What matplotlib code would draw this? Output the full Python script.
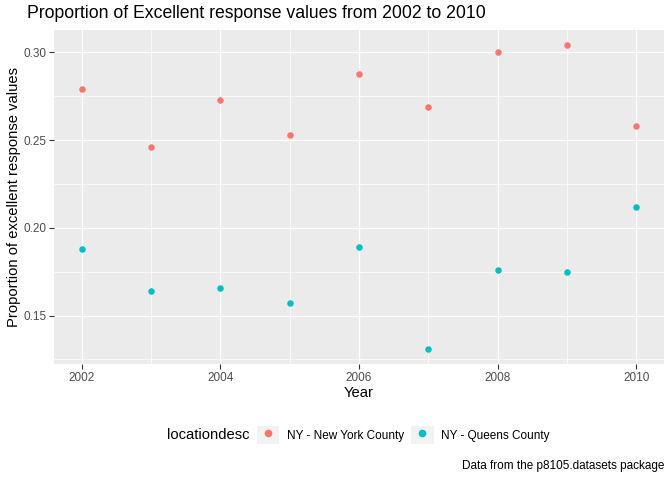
import matplotlib
matplotlib.use("Agg")
import matplotlib.pyplot as plt
from matplotlib.lines import Line2D
from matplotlib.patches import Rectangle
from matplotlib.legend_handler import HandlerTuple

plt.rcParams['font.family'] = ['Liberation Sans', 'DejaVu Sans']

years = [2002, 2003, 2004, 2005, 2006, 2007, 2008, 2009, 2010]
new_york = [0.279, 0.246, 0.273, 0.253, 0.288, 0.269, 0.300, 0.304, 0.258]
queens = [0.188, 0.164, 0.1655, 0.157, 0.189, 0.131, 0.176, 0.175, 0.212]
series_names = ["NY - New York County", "NY - Queens County"]
colors = ["#F8766D", "#00BFC4"]

W, H = 672, 480
fig = plt.figure(figsize=(6.72, 4.8), dpi=100)
ax = fig.add_axes([54 / W, 1 - 364 / H, (664 - 54) / W, (364 - 30) / H])
ax.set_facecolor("#EBEBEB")
for s in ax.spines.values():
    s.set_visible(False)

ax.scatter(years, new_york, s=22, color=colors[0], zorder=3, linewidths=0)
ax.scatter(years, queens, s=22, color=colors[1], zorder=3, linewidths=0)

ax.set_xlim(2001.6, 2010.4)
ax.set_ylim(0.1224, 0.3128)
ax.set_xticks([2002, 2004, 2006, 2008, 2010])
ax.set_xticks([2003, 2005, 2007, 2009], minor=True)
ax.set_yticks([0.15, 0.20, 0.25, 0.30])
ax.set_yticklabels(["0.15", "0.20", "0.25", "0.30"])
ax.set_yticks([0.125, 0.175, 0.225, 0.275], minor=True)
ax.grid(which="major", color="white", linewidth=1.0)
ax.grid(which="minor", color="white", linewidth=0.5)
ax.set_axisbelow(True)
ax.tick_params(which="major", length=3.5, width=0.8, color="#333333",
               labelsize=8.45, labelcolor="#4D4D4D", pad=2)
ax.tick_params(which="minor", length=0)

ax.set_xlabel("Year", fontsize=10.6, labelpad=2)
ax.set_ylabel("Proportion of excellent response values", fontsize=10.6, labelpad=0)
ax.yaxis.set_label_coords(-33 / (664 - 54), 0.5)
fig.text(27 / W, 1 - 14 / H, "Proportion of Excellent response values from 2002 to 2010",
         fontsize=12.7, va="center", ha="left")

handles = [(Rectangle((0, 0), 1, 1, facecolor="#F2F2F2", edgecolor="none"),
            Line2D([], [], marker="o", linestyle="none", color=c, markersize=4.5))
           for c in colors]
fig.text(167 / W, 1 - 435 / H, "locationdesc", fontsize=10.6, va="center", ha="left")
fig.legend(handles, series_names, ncol=2, loc="center left",
           bbox_to_anchor=(257 / W, 1 - 435 / H), frameon=False,
           handler_map={tuple: HandlerTuple(ndivide=1, pad=0)},
           handlelength=1.88, handleheight=1.88, handletextpad=0.65,
           columnspacing=0.65, fontsize=8.45, borderaxespad=0, borderpad=0)
fig.text(664 / W, 1 - 466 / H, "Data from the p8105.datasets package",
         fontsize=8.45, va="center", ha="right")

fig.savefig("out.png", dpi=100)
